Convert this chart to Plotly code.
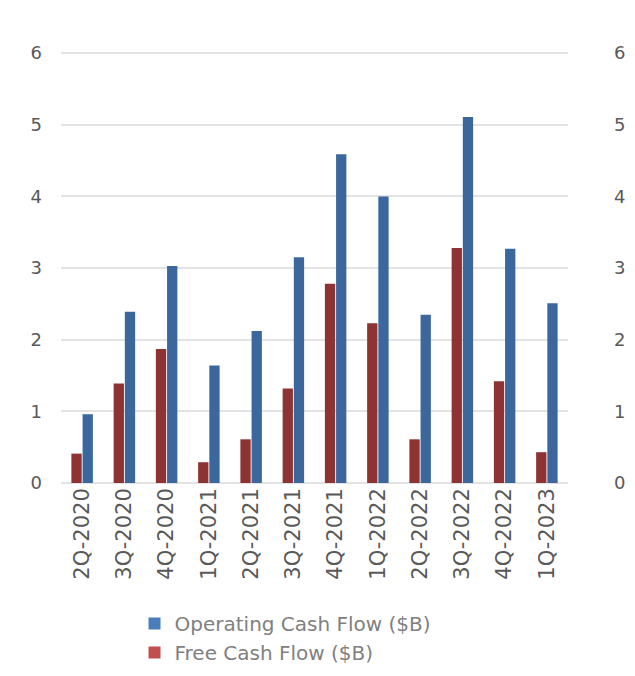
import plotly.graph_objects as go

quarters = ["2Q-2020", "3Q-2020", "4Q-2020", "1Q-2021", "2Q-2021", "3Q-2021",
            "4Q-2021", "1Q-2022", "2Q-2022", "3Q-2022", "4Q-2022", "1Q-2023"]
free_cf = [0.41, 1.39, 1.87, 0.29, 0.61, 1.32, 2.78, 2.23, 0.61, 3.28, 1.42, 0.43]
operating_cf = [0.96, 2.39, 3.03, 1.64, 2.12, 3.15, 4.59, 4.00, 2.35, 5.11, 3.27, 2.51]
y_ticks = [0, 1, 2, 3, 4, 5, 6]

FONT = "DejaVu Sans"
fig = go.Figure()

fig.add_trace(go.Bar(x=quarters, y=free_cf, name="Free Cash Flow ($B)",
                     marker=dict(color="#8E3333", line=dict(width=0)), showlegend=False))
fig.add_trace(go.Bar(x=quarters, y=operating_cf, name="Operating Cash Flow ($B)",
                     marker=dict(color="#3B679D", line=dict(width=0)), showlegend=False))

# legend entries (lighter legend swatches as in the reference)
fig.add_trace(go.Scatter(x=[None], y=[None], mode="markers", name="Operating Cash Flow ($B)",
                         marker=dict(symbol="square", size=12, color="#4A7EBB"), yaxis="y2"))
fig.add_trace(go.Scatter(x=[None], y=[None], mode="markers", name="Free Cash Flow ($B)",
                         marker=dict(symbol="square", size=12, color="#C0504D"), yaxis="y2"))

fig.update_layout(
    width=635, height=676,
    margin=dict(l=61, r=67, t=51, b=193, autoexpand=False),
    paper_bgcolor="white", plot_bgcolor="white",
    barmode="group", bargap=0.47, bargroupgap=0.08,
    font=dict(family=FONT, color="#595959"),
    xaxis=dict(categoryorder="array", categoryarray=quarters, tickangle=-90,
               tickfont=dict(size=21, color="#595959"), showgrid=False,
               showline=False, ticks="", automargin=False),
    yaxis=dict(range=[0, 6.03], tickvals=y_ticks, tickfont=dict(size=18, color="#595959"),
               showgrid=True, gridcolor="#e3e3e3", gridwidth=2,
               zeroline=True, zerolinecolor="#e3e3e3", zerolinewidth=2,
               ticks="", ticklabelstandoff=18, automargin=False),
    yaxis2=dict(range=[0, 6.03], tickvals=y_ticks, overlaying="y", side="right",
                tickfont=dict(size=18, color="#595959"), showgrid=False, zeroline=False,
                ticks="", ticklabelstandoff=45, automargin=False),
    legend=dict(x=0.145, y=-0.28, xanchor="left", yanchor="top",
                font=dict(size=20, color="#808080", family=FONT),
                bgcolor="rgba(0,0,0,0)", tracegroupgap=0),
)

fig.write_html("out.html")
